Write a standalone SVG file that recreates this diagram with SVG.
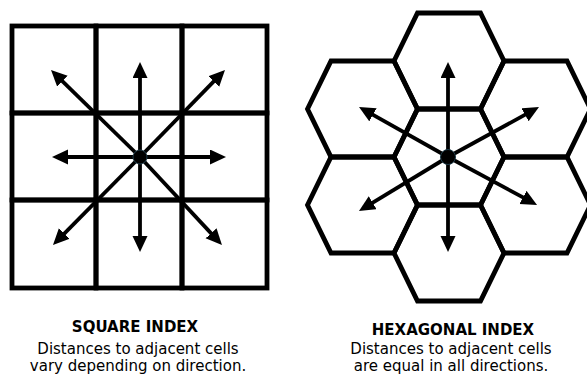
<svg xmlns="http://www.w3.org/2000/svg" width="587" height="376" viewBox="0 0 587 376">
<style>
.cell{fill:none;stroke:#000;stroke-width:4.8;stroke-linejoin:miter}
.arr{stroke:#000;stroke-width:3.8;fill:none;marker-end:url(#ah)}
.dot{fill:#000;stroke:#1d3a48;stroke-width:1}
.t{font-family:"DejaVu Sans",Verdana,sans-serif;font-size:15px;text-anchor:middle;fill:#000}
.b{font-weight:bold}
</style>
<defs>
<marker id="ah" markerUnits="userSpaceOnUse" markerWidth="18" markerHeight="16" refX="8" refY="7.5" orient="auto">
<path d="M0,0 L16,7.5 L0,15 z" fill="#000"/>
</marker>
</defs>
<rect width="587" height="376" fill="#fff"/>
<g id="square-grid">
<g id="sq-1"><rect class="cell" x="12" y="26" width="84" height="87"/></g>
<g id="sq-2"><rect class="cell" x="96" y="26" width="86" height="87"/></g>
<g id="sq-3"><rect class="cell" x="182" y="26" width="85" height="87"/></g>
<g id="sq-4"><rect class="cell" x="12" y="113" width="84" height="87"/></g>
<g id="sq-5"><rect class="cell" x="96" y="113" width="86" height="87"/></g>
<g id="sq-6"><rect class="cell" x="182" y="113" width="85" height="87"/></g>
<g id="sq-7"><rect class="cell" x="12" y="200" width="84" height="88"/></g>
<g id="sq-8"><rect class="cell" x="96" y="200" width="86" height="88"/></g>
<g id="sq-9"><rect class="cell" x="182" y="200" width="85" height="88"/></g>
</g>
<g id="hex-grid">
<g id="hex-center"><polygon class="cell" points="394,157 417.5,109 480.5,109 504,157 480.5,205 417.5,205"/></g>
<g id="hex-top"><polygon class="cell" points="394,61 417.5,13 480.5,13 504,61 480.5,109 417.5,109"/></g>
<g id="hex-bottom"><polygon class="cell" points="394,253 417.5,205 480.5,205 504,253 480.5,301 417.5,301"/></g>
<g id="hex-top-left"><polygon class="cell" points="307.5,109 331,61 394,61 417.5,109 394,157 331,157"/></g>
<g id="hex-bottom-left"><polygon class="cell" points="307.5,205 331,157 394,157 417.5,205 394,253 331,253"/></g>
<g id="hex-top-right"><polygon class="cell" points="480.5,109 504,61 567,61 590.5,109 567,157 504,157"/></g>
<g id="hex-bottom-right"><polygon class="cell" points="480.5,205 504,157 567,157 590.5,205 567,253 504,253"/></g>
</g>
<g id="connectors">
<line class="arr" x1="140" y1="157" x2="140" y2="70"/>
<line class="arr" x1="140" y1="157" x2="140" y2="244"/>
<line class="arr" x1="140" y1="157" x2="60" y2="157"/>
<line class="arr" x1="140" y1="157" x2="218" y2="157"/>
<line class="arr" x1="140" y1="157" x2="56.7" y2="75.6"/>
<line class="arr" x1="140" y1="157" x2="219.4" y2="75.7"/>
<line class="arr" x1="140" y1="157" x2="58.6" y2="239.3"/>
<line class="arr" x1="140" y1="157" x2="216.5" y2="239.1"/>
<line class="arr" x1="448" y1="157" x2="448" y2="70"/>
<line class="arr" x1="448" y1="157" x2="448" y2="244"/>
<line class="arr" x1="448" y1="157" x2="366" y2="110.9"/>
<line class="arr" x1="448" y1="157" x2="532" y2="110.9"/>
<line class="arr" x1="448" y1="157" x2="365.8" y2="206.8"/>
<line class="arr" x1="448" y1="157" x2="530" y2="201.2"/>
</g>
<g id="centers">
<circle class="dot" cx="140" cy="157" r="7"/>
<circle class="dot" cx="448" cy="157" r="7.5"/>
</g>
<g id="label-square">
<text class="t b" x="135" y="332">SQUARE INDEX</text>
<text class="t" x="138" y="354">Distances to adjacent cells</text>
<text class="t" x="138" y="371">vary depending on direction.</text>
</g>
<g id="label-hex">
<text class="t b" x="453" y="335">HEXAGONAL INDEX</text>
<text class="t" x="451" y="354">Distances to adjacent cells</text>
<text class="t" x="451" y="371">are equal in all directions.</text>
</g>
</svg>
